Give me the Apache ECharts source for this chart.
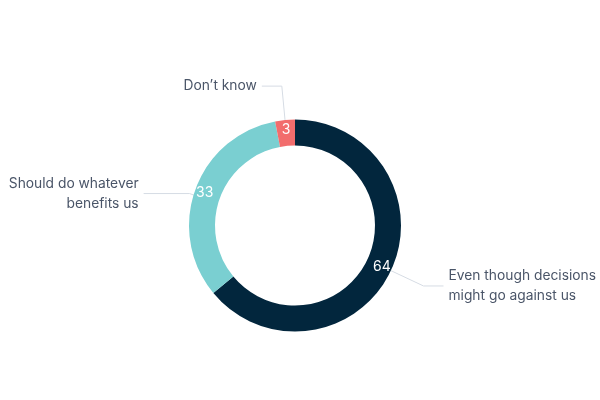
<!DOCTYPE html>
<html><head><meta charset="utf-8">
<script src="https://cdn.jsdelivr.net/npm/echarts@6/dist/echarts.min.js"></script>
<style>html,body{margin:0;padding:0;background:#fff}#c{width:600px;height:400px}</style>
</head><body><div id="c"></div>
<script>
const categories = ["Even though decisions\nmight go against us", "Should do whatever\nbenefits us", "Don\u2019t know"];
const values = [64, 33, 3];
const colors = ["#02263d", "#7acfd1", "#f26d6d"];
const lineLen1 = [36, 6, 34];
const lineLen2 = [20, 46, 20];
const labelShiftY = [0, 6, 0];

const chart = echarts.init(document.getElementById('c'), null, {renderer: 'canvas'});
const font = 'Inter, "Noto Sans", sans-serif';
chart.setOption({
  animation: false,
  series: [
    {
      type: 'pie',
      center: [295, 225.5],
      radius: [80, 106],
      startAngle: 90,
      clockwise: true,
      silent: true,
      itemStyle: {borderWidth: 0},
      label: {
        show: true, position: 'outside', color: '#4a5568',
        fontFamily: font, fontSize: 13.8, lineHeight: 20,
        overflow: 'none', edgeDistance: 0,
        formatter: p => p.name, distanceToLabelLine: 5
      },
      labelLine: {show: true, lineStyle: {color: '#d6dce4', width: 1}},
      labelLayout: p => {
        const s = labelShiftY[p.dataIndex];
        if (!s || !p.labelLinePoints) return {};
        return {dy: s, labelLinePoints: p.labelLinePoints.map(pt => [pt[0], pt[1] + s])};
      },
      data: categories.map((c, i) => ({
        name: c, value: values[i], itemStyle: {color: colors[i]},
        labelLine: {length: lineLen1[i], length2: lineLen2[i]}
      }))
    },
    {
      type: 'pie',
      center: [295, 225.5],
      radius: [80, 106],
      startAngle: 90,
      clockwise: true,
      silent: true,
      itemStyle: {color: 'transparent'},
      label: {
        show: true, position: 'inside', color: '#ffffff',
        fontFamily: font, fontSize: 14, formatter: p => String(p.value)
      },
      labelLine: {show: false},
      data: categories.map((c, i) => ({name: c, value: values[i]}))
    }
  ]
});
</script></body></html>
